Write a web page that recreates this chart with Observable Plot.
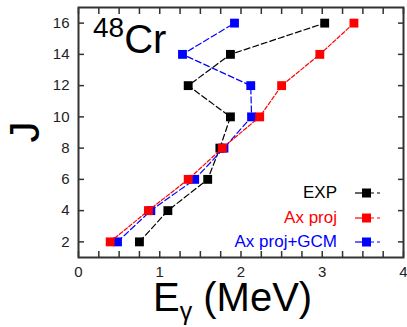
<!DOCTYPE html>
<html><head><meta charset="utf-8">
<script src="https://cdn.jsdelivr.net/npm/d3@7"></script>
<script src="https://cdn.jsdelivr.net/npm/@observablehq/plot@0.6"></script>
<style>
body{margin:0;background:#fff;font-family:"Liberation Sans",Arial,sans-serif;}
#wrap{position:relative;width:407px;height:327px;overflow:hidden;}
.ov{position:absolute;white-space:nowrap;line-height:1;color:#000;}
.leg{position:absolute;white-space:nowrap;line-height:1;font-size:17px;text-align:right;}
</style></head><body><div id="wrap"></div>
<script>
// Data
const spins = [2, 4, 6, 8, 10, 12, 14, 16];
const expE = [0.75, 1.10, 1.59, 1.74, 1.87, 1.35, 1.87, 3.03];
const axProjE = [0.39, 0.86, 1.35, 1.77, 2.23, 2.50, 2.97, 3.39];
const gcmE = [0.48, 0.89, 1.43, 1.79, 2.13, 2.12, 1.28, 1.92];
const seriesNames = ["EXP", "Ax proj", "Ax proj+GCM"];
const seriesColors = ["#000000", "#ff0000", "#0000ff"];
const xTickLabels = [0, 1, 2, 3, 4];
const xMinorTicks = [0, 0.25, 0.5, 0.75, 1, 1.25, 1.5, 1.75, 2, 2.25, 2.5, 2.75, 3, 3.25, 3.5, 3.75, 4];
const yTickLabels = [2, 4, 6, 8, 10, 12, 14, 16];

const rows = [];
[expE, axProjE, gcmE].forEach((arr, s) => arr.forEach((e, i) => rows.push({series: seriesNames[s], J: spins[i], E: e})));
// drawing order: EXP, GCM, Ax proj (red on top)
const drawOrder = ["EXP", "Ax proj+GCM", "Ax proj"];
const dash = {"EXP": "6,3", "Ax proj": "4,2", "Ax proj+GCM": "6,3"};

const marks = [];
for (const s of drawOrder) {
  const d = rows.filter(r => r.series === s);
  const c = seriesColors[seriesNames.indexOf(s)];
  marks.push(Plot.line(d, {x: "E", y: "J", stroke: c, strokeWidth: 1.2, strokeDasharray: dash[s]}));
  marks.push(Plot.dot(d, {x: "E", y: "J", symbol: "square", fill: c, r: 5}));
}

const axisStyle = {stroke: "#333", strokeWidth: 1.5, label: null};
const chart = Plot.plot({
  width: 407, height: 327,
  marginLeft: 78, marginRight: 4, marginTop: 7, marginBottom: 70,
  style: {fontFamily: "Liberation Sans, Arial, sans-serif", background: "white", overflow: "visible"},
  x: {domain: [0, 4], label: null},
  y: {domain: [1, 17], label: null},
  marks: [
    Plot.axisX({anchor: "bottom", ticks: xMinorTicks, tickSize: -6, tickFormat: () => "", ...axisStyle}),
    Plot.axisX({anchor: "top", ticks: xMinorTicks, tickSize: -6, tickFormat: () => "", ...axisStyle}),
    Plot.axisY({anchor: "left", ticks: yTickLabels, tickSize: -6, tickFormat: () => "", ...axisStyle}),
    Plot.axisY({anchor: "right", ticks: yTickLabels, tickSize: -6, tickFormat: () => "", ...axisStyle}),
    Plot.axisX({anchor: "bottom", ticks: xTickLabels, tickSize: 0, tickPadding: 9, fontSize: 15, fill: "#222", label: null, tickFormat: d => String(d)}),
    Plot.axisY({anchor: "left", ticks: yTickLabels, tickSize: 0, tickPadding: 9, fontSize: 15, fill: "#222", label: null, tickFormat: d => String(d)}),
    ...marks,
    Plot.frame({stroke: "#333", strokeWidth: 2})
  ]
});
const wrap = document.getElementById("wrap");
wrap.appendChild(chart);

function ov(html, css) {
  const d = document.createElement("div");
  d.className = "ov";
  d.innerHTML = html;
  Object.assign(d.style, css);
  wrap.appendChild(d);
  return d;
}
// 48Cr label
ov('<span style="font-size:28px;position:relative;top:-16px">48</span><span style="font-size:40px">Cr</span>', {left: "93px", top: "19px"});
// y label (rotated, as SVG text)
const jl = document.createElementNS("http://www.w3.org/2000/svg", "svg");
jl.setAttribute("width", 46); jl.setAttribute("height", 60);
jl.style.position = "absolute"; jl.style.left = "2px"; jl.style.top = "102px";
jl.innerHTML = `<text transform="translate(37,30) rotate(-90)" text-anchor="middle" font-size="42" font-family="Liberation Sans, Arial, sans-serif" fill="#000">J</text>`;
wrap.appendChild(jl);
// x label
ov('E<sub style="font-size:25px;vertical-align:-9px">γ</sub> (MeV)', {left: "153px", top: "277px", fontSize: "40px"});

// legend
const legY = [193, 218, 242];
seriesNames.forEach((n, i) => {
  const t = document.createElement("div");
  t.className = "leg";
  t.textContent = n;
  t.style.right = (407 - 337) + "px";
  t.style.top = (legY[i] - 9) + "px";
  t.style.color = seriesColors[i];
  wrap.appendChild(t);
  const sw = document.createElementNS("http://www.w3.org/2000/svg", "svg");
  sw.setAttribute("width", 30); sw.setAttribute("height", 12);
  sw.style.position = "absolute";
  sw.style.left = "354px"; sw.style.top = (legY[i] - 6) + "px";
  sw.innerHTML = `<line x1="1" y1="6" x2="17" y2="6" stroke="${seriesColors[i]}" stroke-width="1.2"/>
    <line x1="17" y1="6" x2="26" y2="6" stroke="${seriesColors[i]}" stroke-width="1.2" stroke-dasharray="3,3"/>
    <rect x="8" y="1.5" width="9" height="9" fill="${seriesColors[i]}"/>`;
  wrap.appendChild(sw);
});
</script></body></html>
